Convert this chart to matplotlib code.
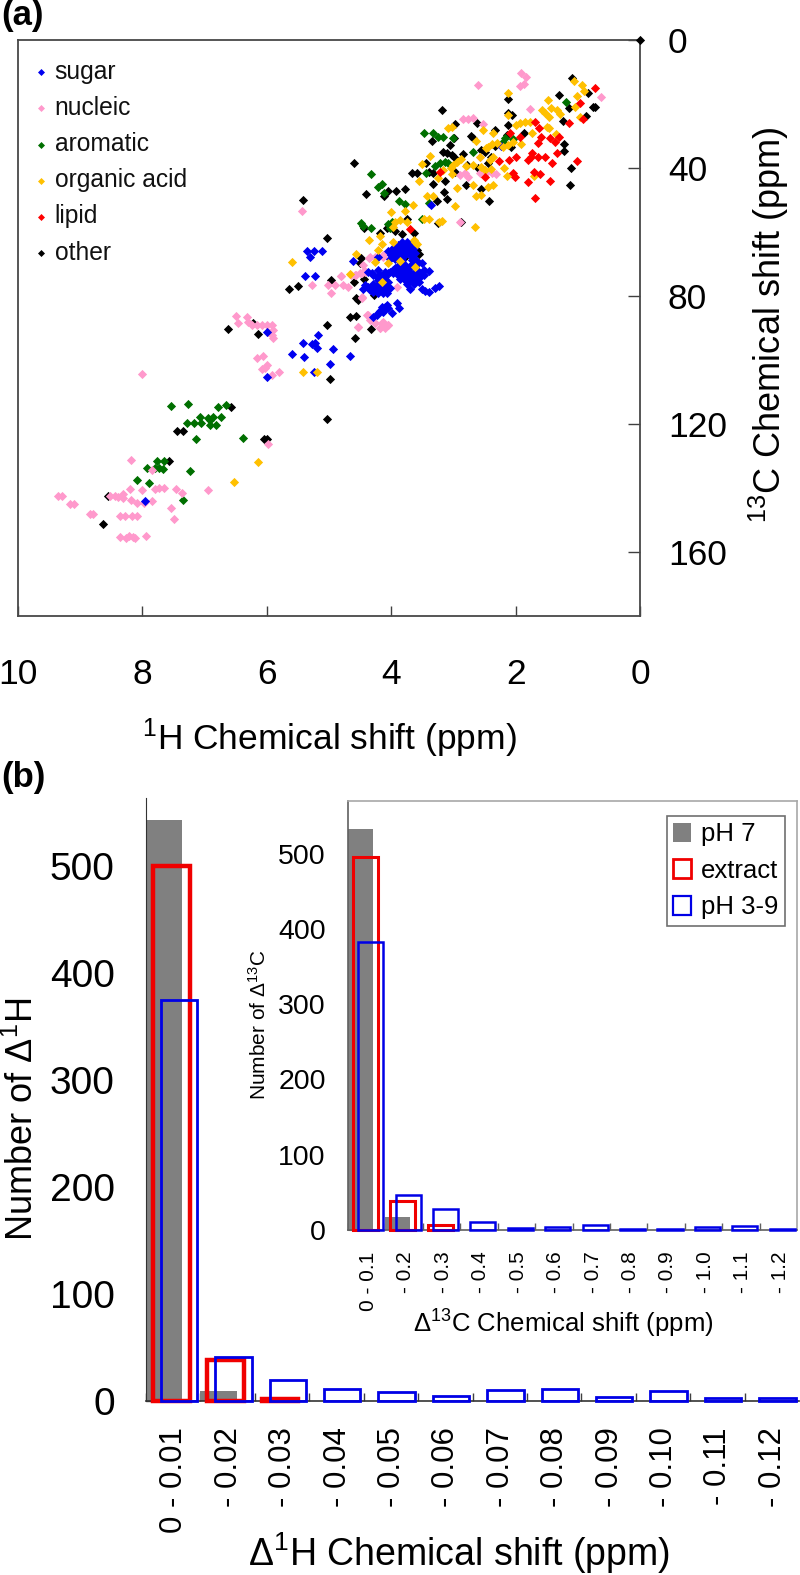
import numpy as np
import matplotlib
matplotlib.use("Agg")
import matplotlib.pyplot as plt
from matplotlib.patches import Patch

plt.rcParams['font.family'] = ['Liberation Sans', 'DejaVu Sans']
plt.rcParams['mathtext.fontset'] = 'custom'
plt.rcParams['mathtext.rm'] = 'Liberation Sans'
plt.rcParams['mathtext.default'] = 'regular'

# panel (a): (1H ppm, 13C ppm)
lipid = [(0.72,15.1),(0.97,19.6),(0.92,24.7),(1.14,25.8),(1.69,25.7),(1.63,27.6),(1.59,30.2),(1.44,30.7),
         (1.36,32.0),(1.31,30.3),(1.64,32.3),(2.09,29.2),(1.93,30.2),(1.33,35.2),(1.52,36.5),(1.64,36.5),
         (1.73,35.4),(1.76,36.7),(1.80,37.5),(1.41,38.5),(1.01,37.8),(1.99,36.5),(2.11,37.5),(2.26,37.7),
         (2.49,42.9),(3.22,41.1),(2.04,41.5),(2.01,42.9),(1.70,41.4),(1.61,42.0),(1.80,44.3),(1.44,44.0),
         (1.69,49.5),(3.70,59.2)]

organic_acid = [(1.06,12.8),(0.93,14.0),(0.90,16.0),(1.02,17.5),(1.05,20.8),(1.48,18.9),(1.43,21.4),(2.13,16.5),
                (2.13,23.4),(1.58,21.9),(1.53,22.9),(1.47,24.2),(1.34,21.9),(1.29,23.1),(0.96,24.0),(1.77,25.5),
                (1.85,25.5),(1.93,26.0),(2.00,26.7),(1.50,27.1),(1.47,27.6),(1.73,29.2),(1.35,29.4),(1.92,32.5),
                (2.04,31.8),(2.12,32.8),(2.20,33.3),(2.30,32.1),(2.38,32.5),(2.44,33.3),(2.48,33.9),(2.52,28.1),
                (2.37,29.2),(2.64,31.6),(3.09,27.6),(3.03,27.3),(3.37,36.3),(3.51,38.9),(2.95,38.0),(3.00,39.1),
                (3.04,40.1),(2.88,37.2),(2.80,39.3),(2.68,39.1),(2.57,36.5),(2.36,36.5),(2.41,37.5),(2.19,40.1),
                (2.14,42.4),(2.40,40.3),(2.49,40.6),(2.55,39.6),(3.03,41.9),(3.16,40.6),(3.24,43.2),(3.55,44.2),
                (2.68,45.3),(2.94,46.4),(2.37,45.3),(2.44,45.8),(3.43,48.6),(3.33,48.6),(2.64,48.6),(2.55,48.4),
                (2.97,51.9),(3.65,51.6),(3.78,53.3),(4.00,53.9),(3.39,55.8),(3.48,55.8),(3.19,56.5),(3.23,56.8),
                (2.65,58.3),(3.86,56.3),(3.94,56.8),(3.74,56.8),(3.97,58.5),(4.35,62.5),(4.18,61.3),(4.14,63.8),
                (4.22,65.6),(3.97,63.0),(4.57,66.9),(3.64,62.5),(3.62,63.0),(3.58,63.8),(4.66,73.1),(1.71,42.5),
                (3.86,69.0),(4.05,69.8),(3.62,70.8),(4.15,75.5),(4.26,69.3),(5.59,69.4),(5.42,103.8),(5.20,103.8),
                (6.14,132.0),(6.52,138.1)]

other = [(0.0,0.0),(1.10,12.0),(0.83,16.5),(1.31,17.3),(1.14,21.4),(0.72,20.8),(0.76,20.8),(0.87,23.6),(1.23,25.3),
         (2.13,18.3),(2.13,22.9),(2.05,23.4),(2.13,26.6),(2.33,28.1),(3.18,21.8),(2.98,26.3),(2.62,26.0),
         (1.87,29.2),(2.72,29.9),(2.69,30.7),(3.35,31.5),(3.05,32.8),(2.99,30.7),(1.22,32.5),(1.22,34.8),
         (3.16,34.9),(3.11,35.2),(3.03,35.9),(2.99,36.7),(2.85,35.6),(2.55,34.4),(2.49,35.1),(2.45,38.3),
         (2.40,36.5),(2.14,29.7),(2.08,33.3),(2.33,33.1),(4.60,38.3),(1.11,39.9),(3.67,41.6),(3.58,41.6),
         (3.44,38.3),(3.40,41.1),(3.32,41.7),(3.13,44.1),(2.97,41.1),(2.60,39.9),(2.78,39.1),(3.32,45.0),
         (2.80,45.4),(1.13,45.4),(2.55,46.7),(3.15,47.4),(3.10,49.6),(3.27,50.2),(2.43,50.3),(4.40,48.0),
         (4.05,47.1),(3.93,47.1),(3.78,46.5),(4.12,48.8),(5.42,50.0),(4.44,58.6),(4.06,58.9),(3.94,59.6),
         (3.82,60.6),(3.75,56.0),(3.24,57.3),(3.64,60.2),(4.18,60.4),(5.04,62.0),(3.56,66.9),(4.49,68.0),
         (4.50,69.8),(3.80,68.2),(4.97,75.0),(4.60,75.6),(4.44,74.8),(4.57,80.7),(4.53,81.3),(4.28,79.8),
         (4.66,86.5),(4.57,86.3),(5.04,89.2),(4.32,90.2),(4.58,93.0),(2.88,56.8),(3.59,65.6),(5.64,77.8),
         (5.50,76.9),(6.62,90.4),(6.14,92.0),(6.22,88.5),(6.57,114.8),(7.45,122.3),(7.34,122.3),(6.05,124.7),
         (6.00,124.7),(7.58,131.7),(8.64,151.4),(8.56,142.4),(5.04,118.3),(4.98,106.0)]

aromatic = [(1.19,19.5),(2.17,30.7),(2.04,31.0),(3.01,30.7),(3.48,29.2),(3.32,29.2),(3.24,30.4),(3.16,30.4),
            (2.68,35.1),(2.20,31.8),(3.30,39.3),(3.22,38.5),(3.13,38.0),(3.08,38.3),(3.44,41.7),(4.33,41.9),
            (4.22,45.8),(4.15,45.0),(4.12,47.7),(3.88,50.3),(3.78,51.3),(3.39,51.0),(3.51,55.8),(4.49,57.3),
            (4.45,58.1),(4.32,58.8),(4.05,57.5),(3.99,56.8),(4.02,58.9),(7.54,114.5),(7.26,113.7),(6.78,114.8),
            (6.66,114.0),(7.07,117.7),(6.74,117.7),(6.86,117.7),(6.94,118.2),(6.91,118.9),(7.29,119.7),(7.17,119.7),
            (7.05,119.7),(6.92,120.3),(6.82,120.3),(7.14,124.8),(6.39,124.5),(7.76,131.6),(7.66,131.6),(7.92,133.8),
            (7.80,133.8),(7.74,133.6),(7.67,134.0),(8.09,137.5),(7.89,138.4),(7.24,134.6),(7.34,143.6)]

nucleic = [(8.0,104.4),(8.19,131.3),(7.84,134.4),(8.20,140.4),(8.01,140.7),(7.80,140.4),(7.74,140.1),(7.66,140.1),
           (7.46,140.4),(7.37,141.6),(6.94,140.7),(9.35,142.6),(9.30,142.4),(9.17,144.9),(9.10,144.9),(8.85,148.1),
           (8.80,148.1),(8.52,142.4),(8.44,142.4),(8.39,142.7),(8.31,141.9),(8.31,143.2),(8.19,143.9),(8.09,144.7),
           (7.98,144.6),(7.85,144.2),(7.54,146.2),(7.49,149.8),(8.36,148.8),(8.28,148.8),(8.17,148.8),(8.09,148.8),
           (8.36,155.3),(8.26,155.5),(8.21,155.0),(8.15,155.2),(8.12,155.7),(7.94,155.0),(5.98,126.4),(6.16,99.5),
           (6.06,98.8),(6.08,102.8),(6.03,102.4),(5.99,101.7),(5.91,104.6),(5.80,103.7),(5.98,91.1),(5.92,92.2),
           (5.90,93.2),(5.44,53.5),(6.50,86.3),(6.47,88.5),(6.32,86.5),(6.30,88.0),(6.24,89.0),(6.16,89.0),
           (6.08,89.0),(6.00,89.0),(5.92,89.0),(5.90,90.6),(4.81,73.6),(5.27,76.6),(5.01,76.6),(4.90,76.6),
           (4.77,76.6),(4.70,77.3),(4.97,79.0),(4.58,73.4),(4.50,72.9),(4.42,72.4),(4.47,80.5),(4.34,67.7),
           (4.21,67.7),(4.13,67.7),(4.39,85.9),(4.34,87.5),(4.26,88.5),(4.13,88.0),(4.05,89.0),(4.53,89.8),
           (4.18,90.1),(1.92,10.4),(1.83,11.7),(1.93,14.3),(1.87,13.9),(2.60,14.0),(1.77,21.7),(0.63,17.9),
           (2.84,24.6),(2.76,24.6),(2.69,24.4),(2.52,26.2),(2.89,42.2),(2.81,41.7),(2.76,42.7),(2.57,41.7),
           (2.47,41.5),(2.38,41.5),(2.32,42.0),(2.57,36.7),(2.90,57.0),(4.35,68.0),(4.26,67.7),(4.13,67.2),
           (4.64,73.4),(4.56,73.4),(4.47,72.9),(4.42,72.1),(4.45,70.3),(3.91,77.1),(4.80,73.6),(4.47,80.2),
           (4.37,85.9),(4.31,87.5),(4.26,88.5),(4.18,90.1),(4.10,90.1),(4.05,89.1),(4.15,88.5),(4.53,89.6)]

sugar = [(3.83,63.0),(3.75,63.0),(3.67,63.6),(3.89,64.1),(3.81,64.1),(3.73,64.6),(3.64,65.1),(3.97,65.1),(3.89,65.7),
         (3.81,65.7),(3.70,66.2),(3.62,66.7),(4.05,65.9),(3.97,66.7),(3.89,67.2),(3.78,67.2),(3.70,67.2),(4.02,68.3),
         (3.94,68.3),(3.83,68.8),(3.67,68.8),(3.59,69.0),(3.51,69.6),(3.62,70.3),(3.67,70.0),(3.86,70.3),(3.94,71.4),
         (4.02,72.4),(4.10,72.4),(3.89,71.9),(3.81,71.9),(3.73,71.9),(3.97,72.9),(3.89,73.5),(3.81,73.5),(3.73,73.5),
         (3.64,72.9),(3.56,72.4),(3.48,71.9),(3.40,72.2),(3.86,74.8),(3.78,75.0),(3.70,75.0),(3.62,74.8),(3.54,74.2),
         (3.48,73.5),(3.75,76.3),(3.64,76.1),(3.56,75.5),(4.21,71.9),(4.29,73.5),(4.37,72.4),(4.31,72.9),(4.18,73.5),
         (4.21,75.0),(4.13,74.2),(4.29,76.1),(4.42,76.6),(4.45,77.9),(4.34,78.1),(4.26,77.6),(4.18,78.1),(4.10,77.1),
         (4.02,77.6),(4.07,79.2),(4.21,79.2),(4.29,78.7),(4.05,75.5),(3.70,77.8),(3.51,77.9),(3.46,78.5),(3.39,78.9),
         (3.30,77.4),(3.23,76.9),(4.22,67.7),(4.61,69.0),(3.91,82.3),(3.87,83.9),(3.99,85.2),(4.10,83.4),(4.15,83.4),
         (4.07,82.8),(4.18,84.6),(4.13,84.9),(4.23,86.0),(4.29,86.5),(4.21,85.4),(2.23,33.1),(3.36,51.6),(5.35,65.8),
         (5.24,65.8),(5.12,65.8),(5.31,67.8),(5.39,73.9),(5.22,73.6),(5.99,91.1),(5.17,92.2),(5.41,94.7),(5.28,95.0),
         (5.22,94.8),(5.20,96.3),(4.94,96.6),(5.60,98.2),(5.40,99.1),(4.98,101.1),(5.24,103.7),(5.99,105.4),(7.96,144.2),
         (4.66,98.7),(3.91,64.8),(3.85,64.8),(3.76,65.1),(3.85,66.5),(3.76,66.2),(3.92,65.9),(4.00,67.2),(3.65,67.7),
         (3.57,69.8),(3.78,70.3),(3.70,70.9),(3.83,71.1),(3.89,70.7),(3.97,71.9),(4.05,72.9),(3.85,72.7),(3.76,72.7),
         (3.69,72.7),(3.60,73.5),(3.53,73.2),(3.84,74.2),(3.76,74.3),(3.68,74.2),(3.60,74.2),(4.10,74.0),(4.18,74.8),
         (4.23,74.2),(4.15,76.1),(4.22,76.6),(4.31,77.1),(4.38,77.3),(4.22,77.9),(4.14,77.9),(4.13,79.2),(4.10,84.2),
         (4.05,83.9),(4.15,84.2)]

# drawing order, back to front
series = [("other", other, "black"), ("aromatic", aromatic, "#006f00"), ("nucleic", nucleic, "#ff99cc"),
          ("sugar", sugar, "#0000f0"), ("organic acid", organic_acid, "#ffc000"), ("lipid", lipid, "#ff0000")]
legend_order = ["sugar", "nucleic", "aromatic", "organic acid", "lipid", "other"]

# panel (b)
h_labels = ["0 - 0.01", "- 0.02", "- 0.03", "- 0.04", "- 0.05", "- 0.06",
            "- 0.07", "- 0.08", "- 0.09", "- 0.10", "- 0.11", "- 0.12"]
h_ph7 = [543, 9]
h_extract = [500, 38, 2]
h_ph39 = [375, 41, 20, 11, 8, 5, 10, 11, 4, 9, 3, 3]

c_labels = ["0 - 0.1", "- 0.2", "- 0.3", "- 0.4", "- 0.5", "- 0.6",
            "- 0.7", "- 0.8", "- 0.9", "- 1.0", "- 1.1", "- 1.2"]
c_ph7 = [533, 17]
c_extract = [495, 39, 6]
c_ph39 = [383, 47, 28, 11, 2, 4, 7, 1, 1, 4, 5, 1]

W, H = 800, 1575
fig = plt.figure(figsize=(8, 15.75), dpi=100)


def box(left, top, right, bottom):
    return [left / W, 1 - bottom / H, (right - left) / W, (bottom - top) / H]


def put(x, y, s, **kw):
    kw.setdefault("ha", "center")
    kw.setdefault("va", "center")
    fig.text(x / W, 1 - y / H, s, **kw)


# (a)
ax = fig.add_axes(box(18, 40, 640, 616))
for name, pts, col in series:
    p = np.array(pts)
    ax.scatter(p[:, 0], p[:, 1], s=22, marker="D", c=col, linewidths=0, label=name, clip_on=False, zorder=3)
ax.set_xlim(10, 0)
ax.set_ylim(180, 0)
ax.set_xticks([10, 8, 6, 4, 2, 0])
ax.set_yticks([0, 40, 80, 120, 160])
ax.yaxis.tick_right()
ax.tick_params(axis="x", direction="in", length=7.5, width=1, color="#404040", labelsize=25.5, pad=30)
ax.tick_params(axis="y", direction="in", length=9, width=1, color="#404040", labelsize=25.5, pad=20)
for s in ax.spines.values():
    s.set_linewidth(1.3)
    s.set_color("#484848")
hs, ls = ax.get_legend_handles_labels()
by_name = dict(zip(ls, hs))
ax.legend([by_name[n] for n in legend_order], legend_order, loc="upper left", bbox_to_anchor=(-0.024, 1.002),
          frameon=False, fontsize=17.7, labelspacing=0.495, handletextpad=-0.15, handlelength=1.4, markerscale=0.76,
          borderaxespad=0.25, borderpad=0.6, labelcolor="#111111", scatterpoints=1)
put(1, 16, "(a)", ha="left", fontsize=25, fontweight="bold")
put(769, 325, r"$^{13}$C Chemical shift (ppm)", fontsize=26, rotation=90)
put(329, 738, r"$^{1}$H Chemical shift (ppm)", fontsize=25.5)


def bars(a, ph7, extract, ph39, lw_red, lw_blue):
    x = np.arange(12)
    a.bar(x[:len(ph7)], ph7, 0.67, align="edge", color="#808080", linewidth=0, zorder=2)
    a.bar(x[:len(extract)] + 0.13, extract, 0.67, align="edge", facecolor="none", edgecolor="#f00000",
          linewidth=lw_red, zorder=3, clip_on=False)
    a.bar(x + 0.27, ph39, 0.67, align="edge", facecolor="none", edgecolor="#0000e6",
          linewidth=lw_blue, zorder=4, clip_on=False)
    a.set_xlim(0, 12)
    a.set_xticks(np.arange(12))
    a.set_xticklabels([])


# (b)
ax2 = fig.add_axes(box(146, 798, 799, 1401))
bars(ax2, h_ph7, h_extract, h_ph39, 3.2, 2.0)
ax2.set_ylim(0, 563.5)
ax2.set_yticks([0, 100, 200, 300, 400, 500])
ax2.set_xticks(np.arange(12) + 0.52, h_labels, minor=True, rotation=90, fontsize=22.5)
ax2.tick_params(axis="x", which="major", direction="in", length=6, width=1, color="#404040")
ax2.tick_params(axis="x", which="minor", length=0, pad=19)
ax2.tick_params(axis="y", direction="in", length=9, width=1, color="#404040", labelsize=28, pad=22.5)
ax2.spines["top"].set_visible(False)
ax2.spines["right"].set_visible(False)
ax2.spines["left"].set_color("#333333")
ax2.spines["bottom"].set_color("#333333")
ax2.spines["bottom"].set_linewidth(1.2)
put(1, 777, "(b)", ha="left", fontsize=25, fontweight="bold")
put(23, 1119, "Number of \u0394$^{1}$H", fontsize=26, rotation=90)
put(459, 1553, "\u0394$^{1}$H Chemical shift (ppm)", fontsize=27)

# inset
ax3 = fig.add_axes(box(348, 801, 797, 1230), zorder=5)
bars(ax3, c_ph7, c_extract, c_ph39, 2.2, 1.8)
ax3.set_ylim(0, 570)
ax3.set_yticks([0, 100, 200, 300, 400, 500])
ax3.set_xticks(np.arange(12) + 0.55, c_labels, minor=True, rotation=90, fontsize=15)
ax3.tick_params(axis="x", which="major", direction="in", length=5, width=1, color="#606060")
ax3.tick_params(axis="x", which="minor", length=0, pad=15.5)
ax3.tick_params(axis="y", direction="in", length=6, width=0.8, color="#606060", labelsize=20.5, pad=16)
ax3.spines["top"].set_color("#a8a8a8")
ax3.spines["right"].set_color("#a8a8a8")
ax3.spines["left"].set_color("#606060")
ax3.spines["bottom"].set_color("#606060")
for s in ax3.spines.values():
    s.set_linewidth(1.2)
handles = [Patch(facecolor="#808080", edgecolor="none"),
           Patch(facecolor="none", edgecolor="#f00000", linewidth=2),
           Patch(facecolor="none", edgecolor="#0000e6", linewidth=1.6)]
leg = ax3.legend(handles, ["pH 7", "extract", "pH 3-9"], loc="upper right",
                 bbox_to_anchor=((785 - 348) / 449, (1230 - 816) / 429),
                 borderaxespad=0, fontsize=18.5, fancybox=False, edgecolor="#707070", framealpha=1,
                 handlelength=0.7, handleheight=0.75, handletextpad=0.4, labelspacing=0.48, borderpad=0.25)
leg.get_frame().set_linewidth(1.2)
put(259, 1025, "Number of \u0394$^{13}$C", fontsize=15, rotation=90)
put(563, 1324, "\u0394$^{13}$C Chemical shift (ppm)", fontsize=18.5)

fig.savefig("out.png", dpi=100)
